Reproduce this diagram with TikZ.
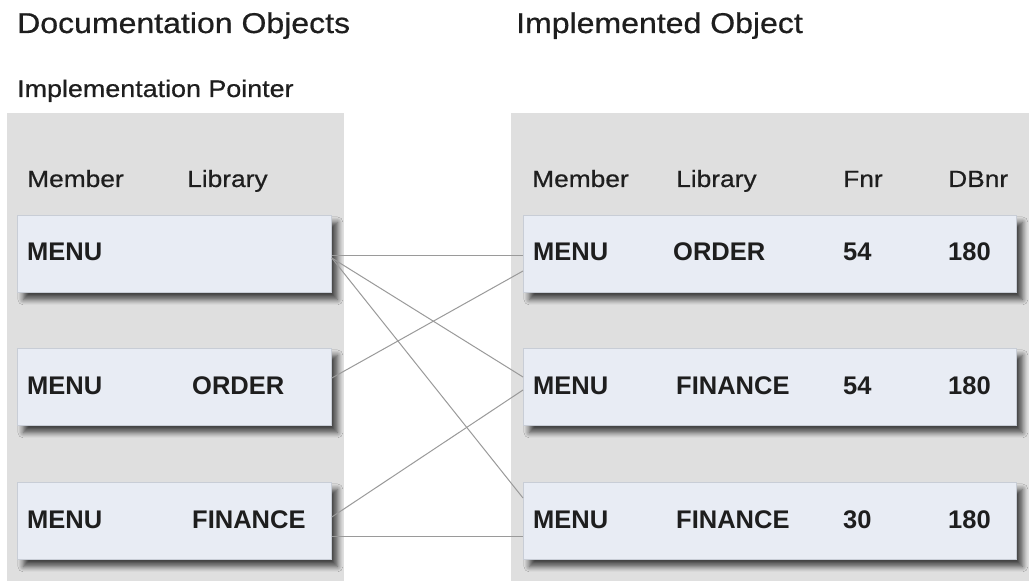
\documentclass[tikz,border=0pt]{standalone}
\usepackage{fontspec}
\setmainfont{Liberation Sans}
\newfontfamily\wreg[FakeStretch=1.12,FakeBold=0.6]{Liberation Sans}
\usetikzlibrary{shadows.blur}
\definecolor{panelgray}{HTML}{DFDFDF}
\definecolor{boxfill}{HTML}{E8ECF4}
\definecolor{boxline}{HTML}{C8CDD6}
\definecolor{linkgray}{HTML}{9A9A9A}
\definecolor{txt}{HTML}{1E1E1E}
\tikzset{
  panel/.style={fill=panelgray},
  rowbox/.style={draw=boxline, line width=0.8bp, fill=boxfill, anchor=north west, inner sep=0,
    blur shadow={shadow xshift=6bp, shadow yshift=-7bp, shadow blur radius=5.5bp, shadow blur steps=8, shadow opacity=70}},
  lbox/.style={rowbox, minimum width=314bp, minimum height=77bp},
  rbox/.style={rowbox, minimum width=493bp, minimum height=77bp},
  title/.style={anchor=base west, inner sep=0, text=txt, font=\wreg\fontsize{28.6bp}{30bp}\selectfont},
  subtitle/.style={anchor=base west, inner sep=0, text=txt, font=\wreg\fontsize{24bp}{26bp}\selectfont},
  colhead/.style={anchor=base west, inner sep=0, text=txt, font=\wreg\fontsize{23.5bp}{26bp}\selectfont},
  cell/.style={anchor=base west, inner sep=0, text=txt, font=\bfseries\fontsize{25.5bp}{27bp}\selectfont},
  link/.style={draw=linkgray, line width=1bp}
}
\begin{document}
\begin{tikzpicture}[x=1bp, y=-1bp]
\useasboundingbox (0,0) rectangle (1029,581);
\fill[white] (0,0) rectangle (1029,581);
% panels
\fill[panel] (7,113) rectangle (344,581);
\fill[panel] (511,113) rectangle (1029,581);
% titles
\node[title] (t1) at (17,33) {Documentation Objects};
\node[title] (t2) at (516,33) {Implemented Object};
\node[subtitle] (t3) at (17,97) {Implementation Pointer};
% column heads
\node[colhead] (hl1) at (27,187) {Member};
\node[colhead] (hl2) at (187,187) {Library};
\node[colhead] (hr1) at (532,187) {Member};
\node[colhead] (hr2) at (676,187) {Library};
\node[colhead] (hr3) at (843,187) {Fnr};
\node[colhead] (hr4) at (948,187) {DBnr};
% boxes
\node[lbox] (L1) at (17,215) {};
\node[lbox] (L2) at (17,348) {};
\node[lbox] (L3) at (17,482) {};
\node[rbox] (R1) at (523,215) {};
\node[rbox] (R2) at (523,348) {};
\node[rbox] (R3) at (523,482) {};
% left cells
\node[cell] (l1a) at (27,261) {MENU};
\node[cell] (l2a) at (27,394) {MENU};
\node[cell] (l2b) at (192,394) {ORDER};
\node[cell] (l3a) at (27,528) {MENU};
\node[cell] (l3b) at (192,528) {FINANCE};
% right cells
\node[cell] (r1a) at (533,261) {MENU};
\node[cell] (r1b) at (673,261) {ORDER};
\node[cell] (r1c) at (843,261) {54};
\node[cell] (r1d) at (948,261) {180};
\node[cell] (r2a) at (533,394) {MENU};
\node[cell] (r2b) at (676,394) {FINANCE};
\node[cell] (r2c) at (843,394) {54};
\node[cell] (r2d) at (948,394) {180};
\node[cell] (r3a) at (533,528) {MENU};
\node[cell] (r3b) at (676,528) {FINANCE};
\node[cell] (r3c) at (843,528) {30};
\node[cell] (r3d) at (948,528) {180};
% links
\draw[link] ([yshift=-40bp]L1.north east) -- ([yshift=-40bp]R1.north west);
\draw[link] ([yshift=-43bp]L1.north east) -- ([yshift=-29bp]R2.north west);
\draw[link] ([yshift=-43bp]L1.north east) -- ([yshift=-16bp]R3.north west);
\draw[link] ([yshift=-30bp]L2.north east) -- ([yshift=-56bp]R1.north west);
\draw[link] ([yshift=-35bp]L3.north east) -- ([yshift=-42bp]R2.north west);
\draw[link] ([yshift=-54bp]L3.north east) -- ([yshift=-54bp]R3.north west);
\end{tikzpicture}
\end{document}
